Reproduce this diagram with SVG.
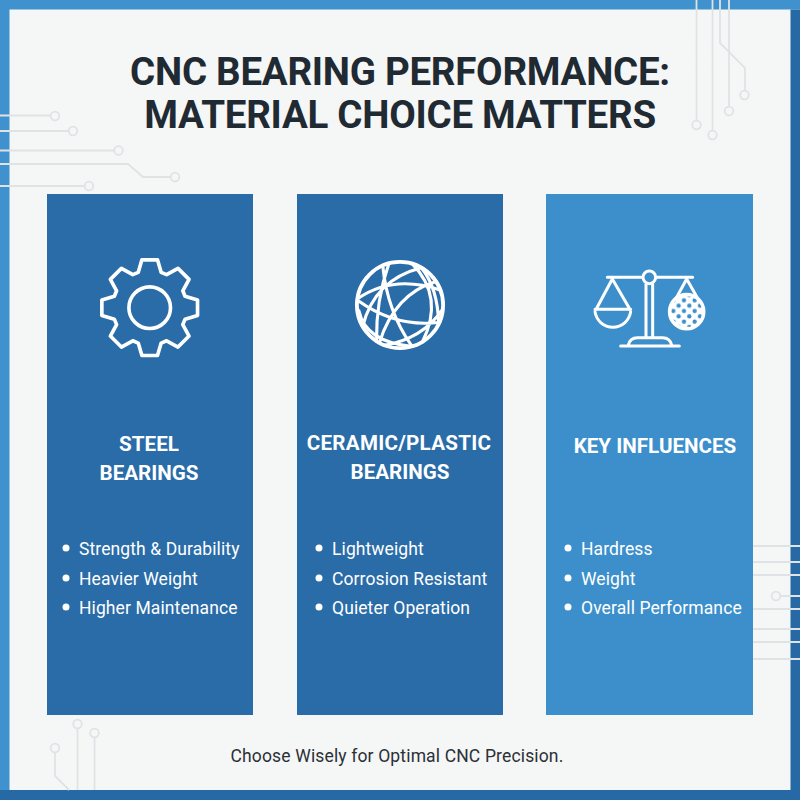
<svg xmlns="http://www.w3.org/2000/svg" width="800" height="800" viewBox="0 0 800 800">
<style>
text{font-family:Roboto,"Liberation Sans",sans-serif}
.title{font-size:38.500px;font-weight:700;fill:#1f2a33;text-anchor:middle;letter-spacing:-.27px}
.h{font-size:20.600px;font-weight:700;fill:#fff;text-anchor:middle}
.li{font-size:17.500px;fill:#fff;letter-spacing:.1px}
.foot{font-size:17.500px;fill:#2b3036;text-anchor:middle;letter-spacing:.15px}
.trace{fill:none;stroke:#e0e3e6;stroke-width:1.800}
.pad{fill:#f5f6f6;stroke:#e0e3e6;stroke-width:1.800}
.icon{fill:none;stroke:#fff;stroke-linejoin:round;stroke-linecap:round}
.dark{fill:#2a6ca8}.light{fill:#3d8fcb}
</style>
<defs>
<pattern id="mesh" patternUnits="userSpaceOnUse" width="32" height="32" x="304" y="128">
<circle cx="8" cy="8" r="6.500" fill="#3d8fcb"/><circle cx="24" cy="24" r="6.500" fill="#3d8fcb"/>
</pattern>
</defs>
<rect width="800" height="800" fill="#f5f6f6"/>
<rect x="0" y="0" width="800" height="9.500" fill="#3f92cd"/>
<rect x="0" y="0" width="9.500" height="800" fill="#3f92cd"/>
<rect x="790.500" y="9.500" width="9.500" height="790.500" fill="#2669a5"/>
<rect x="0" y="790" width="800" height="10" fill="#2669a5"/>
<g id="connectors">
<path class="trace" d="M0 115.500H51M0 131H69M0 150.500H114M0 164H128L143 177H170M0 186H84"/>
<path class="trace" d="M696.500 0V120M712.500 0V130M729 0V106M720 0V43L745 68V90"/>
<path class="trace" d="M753 546H800M753 562H800M753 575H800M781 596H800M753 609H800M753 629H800M753 642H800M753 659H800"/>
<path class="trace" d="M77.500 728V790M94.500 738V790M55 753V776L69 790"/>
<circle class="pad" cx="55" cy="116" r="4.300"/><circle class="pad" cx="73" cy="131" r="4.300"/><circle class="pad" cx="118.500" cy="150.500" r="4.300"/><circle class="pad" cx="175" cy="177" r="4.300"/><circle class="pad" cx="89" cy="186" r="4.300"/>
<circle class="pad" cx="696.500" cy="125" r="4.300"/><circle class="pad" cx="712.500" cy="135" r="4.300"/><circle class="pad" cx="729" cy="111" r="4.300"/><circle class="pad" cx="744.500" cy="95" r="4.300"/>
<circle class="pad" cx="776" cy="596" r="4.300"/><circle class="pad" cx="77.500" cy="724" r="4.300"/><circle class="pad" cx="94.500" cy="733" r="4.300"/><circle class="pad" cx="55" cy="748" r="4.300"/>
</g>
<g id="heading">
<text class="title" x="400" y="85">CNC BEARING PERFORMANCE:</text>
<text class="title" x="400" y="128">MATERIAL CHOICE MATTERS</text>
</g>
<g id="panel-steel">
<rect class="dark" x="47" y="194" width="206" height="521"/>
<g class="icon" stroke-width="3.500" transform="translate(149.700 307.700) scale(1.040)">
<path d="M-11-34L-7.500-46H7.500L11-34L16.260-31.820L27.220-37.830L37.830-27.220L31.820-16.260L34-11L46-7.500V7.500L34 11L31.820 16.260L37.830 27.220L27.220 37.830L16.260 31.820L11 34L7.500 46H-7.500L-11 34L-16.260 31.820L-27.220 37.830L-37.830 27.220L-31.820 16.260L-34 11L-46 7.500V-7.500L-34-11L-31.820-16.260L-37.830-27.220L-27.220-37.830L-16.260-31.820Z"/>
<circle r="20"/>
</g>
<text class="h" x="149" y="451">STEEL</text>
<text class="h" x="149" y="480">BEARINGS</text>
<circle cx="66" cy="548" r="3.500" fill="#fff"/><text class="li" x="79" y="555">Strength &amp; Durability</text>
<circle cx="66" cy="578" r="3.500" fill="#fff"/><text class="li" x="79" y="585">Heavier Weight</text>
<circle cx="66" cy="607" r="3.500" fill="#fff"/><text class="li" x="79" y="614">Higher Maintenance</text>
</g>
<g id="panel-ceramic">
<rect class="dark" x="297" y="194" width="206" height="521"/>
<g class="icon" stroke-width="9" transform="translate(348.250 255.700) scale(.345)">
<circle cx="150" cy="143" r="125" stroke-width="11"/>
<path d="M27 125Q131 53 268 100M118 22Q80 130 82 248M100 28Q112 160 185 263M28 130Q140 210 265 193M90 253Q135 110 255 75M31 160Q50 250 185 263M185 23Q280 120 215 250M42 205Q75 70 212 35M105 260Q215 240 270 160M212 35Q260 95 262 198"/>
</g>
<text class="h" x="399" y="450" style="letter-spacing:.25px">CERAMIC/PLASTIC</text>
<text class="h" x="400" y="479">BEARINGS</text>
<circle cx="319" cy="548" r="3.500" fill="#fff"/><text class="li" x="332" y="555">Lightweight</text>
<circle cx="319" cy="578" r="3.500" fill="#fff"/><text class="li" x="332" y="585">Corrosion Resistant</text>
<circle cx="319" cy="607" r="3.500" fill="#fff"/><text class="li" x="332" y="614">Quieter Operation</text>
</g>
<g id="panel-influences">
<rect class="light" x="546" y="194" width="207" height="521"/>
<g class="icon" stroke-width="9" transform="translate(580 255) scale(.3333)">
<path d="M82 67H338M198 88V245M218 88V245M122 273H298M145 270Q150 248 172 248H248Q270 248 275 270"/>
<circle cx="208" cy="67" r="19" fill="#3d8fcb"/>
<path d="M97 72L50 160M97 72L148 160M45 163H152M45 170A54 54 0 0 0 152 170"/>
<path d="M320 72L272 160M320 72L370 160"/>
<circle cx="320" cy="170" r="52" fill="#fff"/>
<circle cx="320" cy="170" r="46" fill="url(#mesh)" stroke="none"/>
</g>
<text class="h" x="655" y="453">KEY INFLUENCES</text>
<circle cx="568" cy="548" r="3.500" fill="#fff"/><text class="li" x="581" y="555">Hardress</text>
<circle cx="568" cy="578" r="3.500" fill="#fff"/><text class="li" x="581" y="585">Weight</text>
<circle cx="568" cy="607" r="3.500" fill="#fff"/><text class="li" x="581" y="614">Overall Performance</text>
</g>
<g id="footer"><text class="foot" x="397" y="762">Choose Wisely for Optimal CNC Precision.</text></g>
</svg>
